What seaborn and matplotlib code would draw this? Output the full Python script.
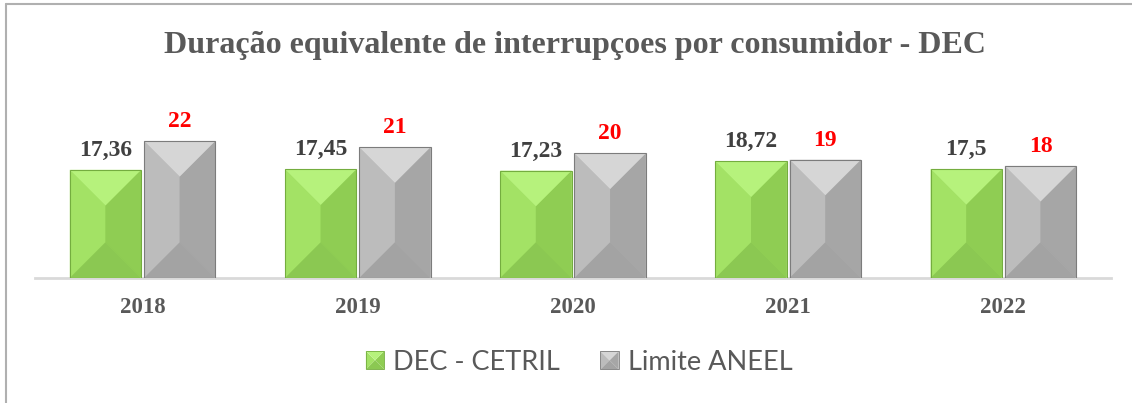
import numpy as np
import pandas as pd
import seaborn as sns
import matplotlib.pyplot as plt
from matplotlib.patches import Polygon, Rectangle
from matplotlib.lines import Line2D
from matplotlib.legend_handler import HandlerBase

sns.set_theme(style="white")
plt.rcParams['font.family'] = ['Liberation Serif', 'DejaVu Serif']

# data
anos = ['2018', '2019', '2020', '2021', '2022']
dec_cetril = [17.36, 17.45, 17.23, 18.72, 17.5]
limite_aneel = [22, 21, 20, 19, 18]
series = ['DEC - CETRIL', 'Limite ANEEL']
dec_labels = ['17,36', '17,45', '17,23', '18,72', '17,5']
lim_labels = ['22', '21', '20', '19', '18']

df = pd.DataFrame({
    'ano': anos * 2,
    'valor': dec_cetril + limite_aneel,
    'serie': [series[0]] * len(anos) + [series[1]] * len(anos),
})

# bevel colours: base, top, left, right, bottom, edge
cores = {
    series[0]: dict(base='#98d85a', top='#b6f27c', left='#a3e265', right='#8fcd53',
                    bottom='#8bc852', edge='#74ad3f'),
    series[1]: dict(base='#b0b0b0', top='#d6d6d6', left='#bcbcbc', right='#a6a6a6',
                    bottom='#a3a3a3', edge='#7c7c7c'),
}

W, H = 1132, 403
fig = plt.figure(figsize=(W / 100, H / 100), dpi=100)
ax = fig.add_axes([35 / W, 125 / H, 1076 / W, 160 / H])

sns.barplot(data=df, x='ano', y='valor', hue='serie', order=anos, hue_order=series,
            palette=[cores[s]['base'] for s in series], width=0.69, gap=0.04,
            saturation=1, legend=False, ax=ax, zorder=2)

ax.set_xlim(-0.5, len(anos) - 0.5)
ax.set_ylim(0, 160 / 6.23)
sns.despine(ax=ax, left=True, top=True, right=True)
ax.spines['bottom'].set_color('#d9d9d9')
ax.spines['bottom'].set_linewidth(2)
ax.set_yticks([])
ax.set_xlabel('')
ax.set_ylabel('')
ax.tick_params(axis='x', length=0, pad=14)
for t in ax.get_xticklabels():
    t.set_fontsize(16.5)
    t.set_fontweight('bold')
    t.set_color('#595959')

# pixels per data unit
p0 = ax.transData.transform((0, 0))
p1 = ax.transData.transform((1, 1))
sx, sy = p1 - p0


def bevel(ax, x0, x1, y0, y1, c):
    cx = (x0 + x1) / 2
    d = min((x1 - x0) * sx / 2 / sy, (y1 - y0) / 2)
    faces = [
        ([(x0, y0), (x0, y1), (cx, y1 - d), (cx, y0 + d)], c['left']),
        ([(x1, y0), (x1, y1), (cx, y1 - d), (cx, y0 + d)], c['right']),
        ([(x0, y1), (x1, y1), (cx, y1 - d)], c['top']),
        ([(x0, y0), (x1, y0), (cx, y0 + d)], c['bottom']),
    ]
    for pts, col in faces:
        ax.add_patch(Polygon(pts, closed=True, facecolor=col, edgecolor='none', zorder=3))
    ax.add_patch(Rectangle((x0, y0), x1 - x0, y1 - y0, facecolor='none',
                           edgecolor=c['edge'], linewidth=0.8, zorder=4))


bars = [p for p in ax.patches if isinstance(p, Rectangle)]
for i, s in enumerate(series):
    for p in bars[i * len(anos):(i + 1) * len(anos)]:
        x0 = p.get_x()
        x1 = x0 + p.get_width()
        bevel(ax, x0, x1, 0, p.get_height(), cores[s])

# value labels
for i, s in enumerate(series):
    labs = dec_labels if i == 0 else lim_labels
    cor = '#404040' if i == 0 else '#ff0000'
    for p, lab in zip(bars[i * len(anos):(i + 1) * len(anos)], labs):
        ax.annotate(lab, (p.get_x() + p.get_width() / 2, p.get_height()),
                    xytext=(0, 14), textcoords='offset points', ha='center', va='center',
                    fontsize=17, fontweight='bold', color=cor, zorder=5)

# title
fig.text(575 / W, 1 - 46 / H, 'Duração equivalente de interrupçoes por consumidor - DEC',
         ha='center', va='center', fontsize=23, fontweight='bold', color='#595959')


# legend with bevelled squares
class BevelHandler(HandlerBase):
    def __init__(self, c):
        super().__init__()
        self.c = c

    def create_artists(self, legend, orig_handle, xdescent, ydescent, width, height,
                       fontsize, trans):
        s = min(width, height) * 0.85
        x0 = -xdescent + (width - s) / 2
        y0 = -ydescent + (height - s) / 2
        x1, y1 = x0 + s, y0 + s
        cx, cy = (x0 + x1) / 2, (y0 + y1) / 2
        c = self.c
        arts = []
        for pts, col in [
            ([(x0, y0), (x0, y1), (cx, cy)], c['left']),
            ([(x1, y0), (x1, y1), (cx, cy)], c['right']),
            ([(x0, y1), (x1, y1), (cx, cy)], c['top']),
            ([(x0, y0), (x1, y0), (cx, cy)], c['bottom']),
        ]:
            arts.append(Polygon(pts, closed=True, facecolor=col, edgecolor='none',
                                transform=trans))
        arts.append(Rectangle((x0, y0), s, s, facecolor='none', edgecolor=c['edge'],
                              linewidth=0.6, transform=trans))
        return arts


handles = [Rectangle((0, 0), 1, 1) for _ in series]
leg = fig.legend(handles, series, loc='center', bbox_to_anchor=(578 / W, 1 - 362 / H),
                 ncol=2, frameon=False, handlelength=0.85, handleheight=0.85,
                 handletextpad=0.25, columnspacing=1.4,
                 handler_map={h: BevelHandler(cores[s]) for h, s in zip(handles, series)},
                 prop={'family': ['Lato', 'DejaVu Sans'], 'size': 19.5})
for t in leg.get_texts():
    t.set_color('#595959')

# chart frame (left and top edges visible)
fig.add_artist(Line2D([6 / W, 6 / W], [0, 1 - 4 / H], transform=fig.transFigure,
                      color='#b0b0b0', linewidth=1.5))
fig.add_artist(Line2D([6 / W, 1], [1 - 4 / H, 1 - 4 / H], transform=fig.transFigure,
                      color='#b0b0b0', linewidth=1.5))

fig.savefig('out.png', dpi=100)
